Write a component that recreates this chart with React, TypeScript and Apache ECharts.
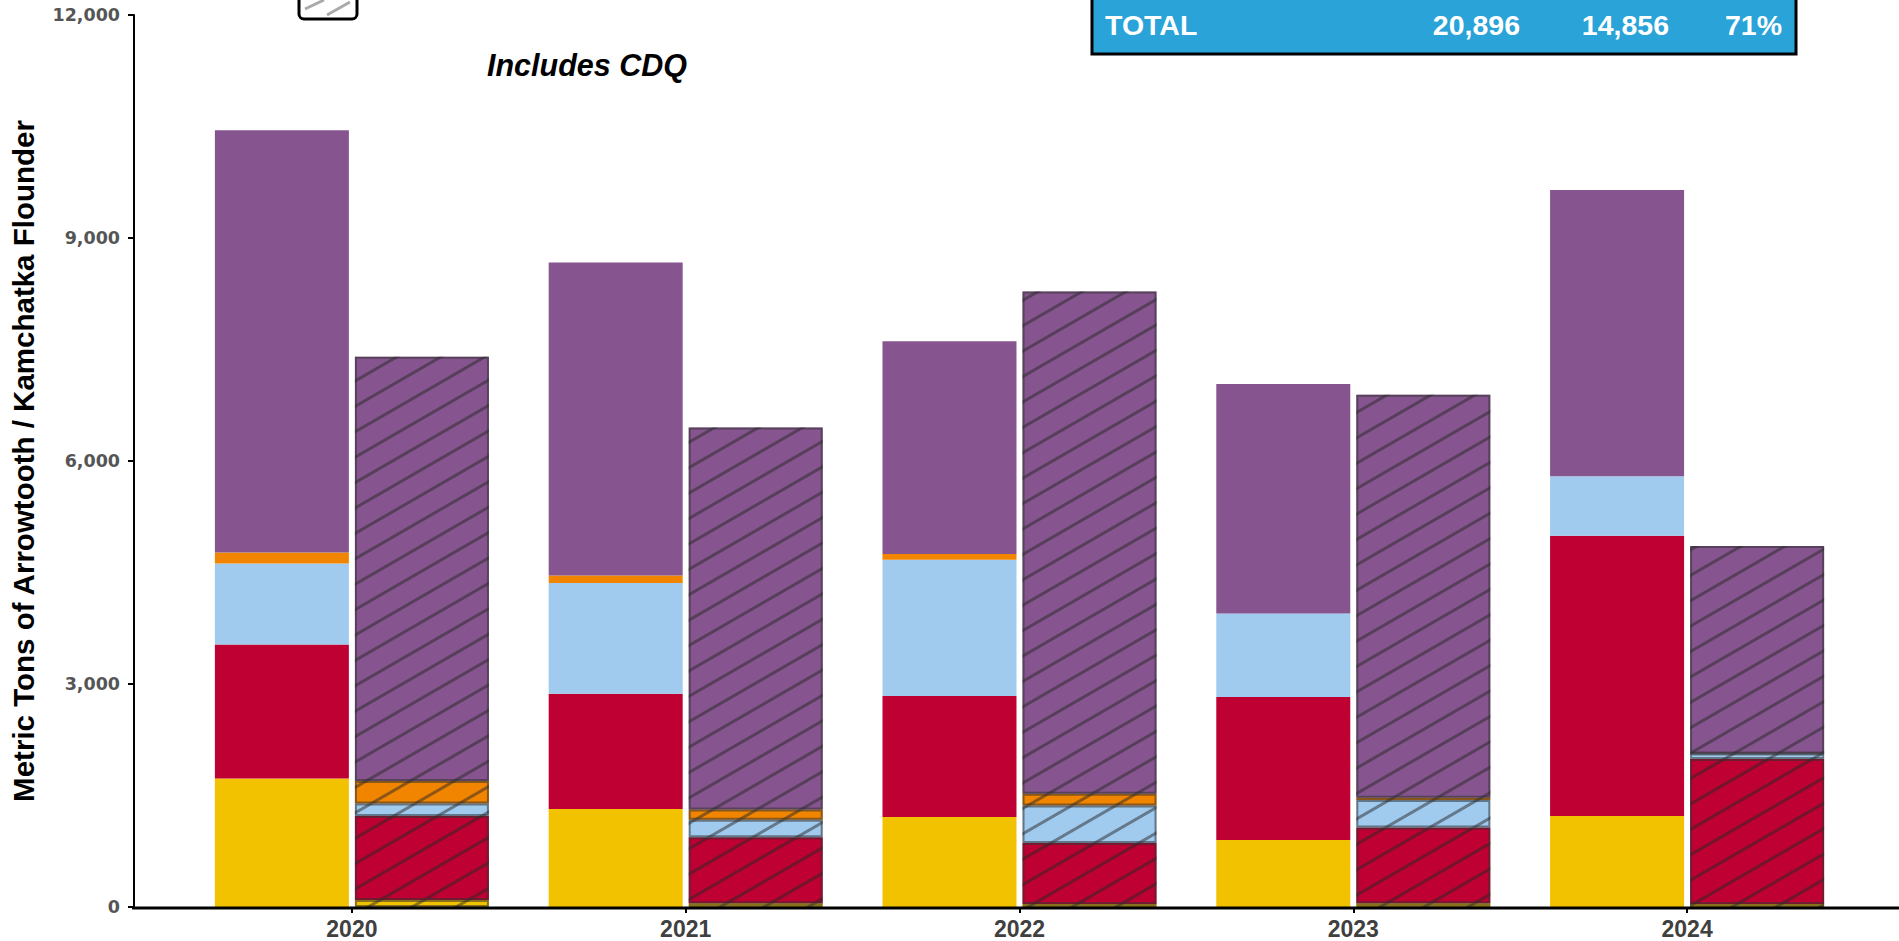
import React, { useEffect, useRef } from "react";
import * as echarts from "echarts";

const years = ["2020", "2021", "2022", "2023", "2024"];
const yTicks = [0, 3000, 6000, 9000, 12000];

// solid bars (left of each pair)
const solidYellow = [1730, 1320, 1210, 900, 1225];
const solidRed = [1800, 1550, 1630, 1925, 3770];
const solidBlue = [1090, 1490, 1830, 1125, 800];
const solidOrange = [150, 100, 80, 0, 0];
const solidPurple = [5680, 4210, 2860, 3085, 3850];

// hatched bars (right of each pair)
const hatchYellow = [94, 50, 40, 50, 40];
const hatchRed = [1130, 890, 820, 1020, 1950];
const hatchBlue = [170, 235, 505, 370, 75];
const hatchOrange = [300, 135, 160, 30, 0];
const hatchPurple = [5710, 5140, 6755, 5420, 2790];

const tableTotal = ["TOTAL", "20,896", "14,856", "71%"];

const YELLOW = "#F2C200";
const RED = "#BE0032";
const BLUE = "#A1CAEF";
const ORANGE = "#F28500";
const PURPLE = "#86558F";

const decal = {
  symbol: "rect",
  symbolSize: 1,
  color: "rgba(40,40,40,0.5)",
  dashArrayX: [1, 0],
  dashArrayY: [3, 19],
  rotation: -Math.PI / 6,
};

export default function App() {
  const ref = useRef<HTMLDivElement>(null);
  useEffect(() => {
    document.body.style.margin = "0";
    const chart = echarts.init(ref.current!, null, { renderer: "svg" });
    const solid = (name: string, data: number[], color: string) => ({
      name,
      type: "bar",
      stack: "solid",
      data,
      barWidth: 134,
      barGap: "4.5%",
      itemStyle: { color },
    });
    const hatched = (name: string, data: number[], color: string) => ({
      name,
      type: "bar",
      stack: "hatched",
      data,
      barWidth: 134,
      barGap: "4.5%",
      itemStyle: { color, decal },
    });
    // outline layer drawn on an identical hidden category axis
    const outline = (name: string, data: number[]) => ({
      name,
      type: "bar",
      xAxisIndex: 1,
      stack: "outline",
      data,
      barWidth: 134,
      barGap: "4.5%",
      silent: true,
      z: 3,
      itemStyle: {
        color: "rgba(0,0,0,0)",
        borderColor: "rgba(50,50,50,0.55)",
        borderWidth: 2,
      },
    });
    chart.setOption({
      animation: false,
      aria: { enabled: false },
      grid: { left: 184, right: 45, top: 15, bottom: 34, containLabel: false },
      xAxis: [
        {
          type: "category",
          data: years,
          boundaryGap: true,
          axisLine: { show: false },
          axisTick: {
            show: true,
            alignWithLabel: true,
            length: 6,
            lineStyle: { color: "#000", width: 2 },
          },
          axisLabel: {
            color: "#404040",
            fontFamily: "Liberation Sans, Arial, sans-serif",
            fontWeight: "bold",
            fontSize: 23,
            margin: 10,
          },
        },
        { type: "category", data: years, boundaryGap: true, show: false },
      ],
      yAxis: {
        type: "value",
        min: 0,
        max: 12000,
        interval: 3000,
        offset: 51,
        splitLine: { show: false },
        axisLine: { show: true, lineStyle: { color: "#000", width: 2 } },
        axisTick: { show: true, length: 6, lineStyle: { color: "#000", width: 2 } },
        axisLabel: {
          color: "#555",
          fontFamily: "DejaVu Sans, Verdana, sans-serif",
          fontWeight: "bold",
          fontSize: 17.5,
          margin: 14,
          formatter: (v: number) => (yTicks.includes(v) ? v.toLocaleString("en-US") : ""),
        },
        name: "Metric Tons of Arrowtooth / Kamchatka Flounder",
        nameLocation: "middle",
        nameGap: 96,
        nameTextStyle: {
          color: "#000",
          fontFamily: "Liberation Sans, Arial, sans-serif",
          fontWeight: "bold",
          fontSize: 29.5,
        },
      },
      series: [
        solid("Yellow", solidYellow, YELLOW),
        solid("Red", solidRed, RED),
        solid("Blue", solidBlue, BLUE),
        solid("Orange", solidOrange, ORANGE),
        solid("Purple", solidPurple, PURPLE),
        hatched("Yellow hatched", hatchYellow, YELLOW),
        hatched("Red hatched", hatchRed, RED),
        hatched("Blue hatched", hatchBlue, BLUE),
        hatched("Orange hatched", hatchOrange, ORANGE),
        hatched("Purple hatched", hatchPurple, PURPLE),
        {
          name: "slot",
          type: "bar",
          xAxisIndex: 1,
          stack: "slot",
          data: solidYellow,
          barWidth: 134,
          barGap: "4.5%",
          silent: true,
          itemStyle: { color: "rgba(0,0,0,0)" },
        },
        outline("o1", hatchYellow),
        outline("o2", hatchRed),
        outline("o3", hatchBlue),
        outline("o4", hatchOrange),
        outline("o5", hatchPurple),
      ],
      graphic: [
        {
          type: "line",
          shape: { x1: 132, y1: 908, x2: 1899, y2: 908 },
          style: { stroke: "#000", lineWidth: 3 },
          z: 10,
        },
        {
          type: "rect",
          shape: { x: 299, y: -20, width: 58, height: 39, r: 5 },
          style: { fill: "#fff", stroke: "#000", lineWidth: 3 },
        },
        {
          type: "line",
          shape: { x1: 305, y1: 9, x2: 324, y2: 0 },
          style: { stroke: "#aaa", lineWidth: 3 },
        },
        {
          type: "line",
          shape: { x1: 327, y1: 15, x2: 350, y2: 2 },
          style: { stroke: "#aaa", lineWidth: 3 },
        },
        {
          type: "text",
          x: 587,
          y: 65,
          style: {
            text: "Includes CDQ",
            fill: "#000",
            font: "italic bold 30.5px 'Liberation Sans', Arial, sans-serif",
            textAlign: "center",
            textVerticalAlign: "middle",
          },
        },
        {
          type: "rect",
          shape: { x: 1092, y: -10, width: 704, height: 64 },
          style: { fill: "#29A3D8", stroke: "#000", lineWidth: 3 },
        },
        {
          type: "text",
          x: 1105,
          y: 25,
          style: {
            text: tableTotal[0],
            fill: "#fff",
            font: "bold 28.5px 'Liberation Sans', Arial, sans-serif",
            textAlign: "left",
            textVerticalAlign: "middle",
          },
        },
        {
          type: "text",
          x: 1520,
          y: 25,
          style: {
            text: tableTotal[1],
            fill: "#fff",
            font: "bold 28.5px 'Liberation Sans', Arial, sans-serif",
            textAlign: "right",
            textVerticalAlign: "middle",
          },
        },
        {
          type: "text",
          x: 1669,
          y: 25,
          style: {
            text: tableTotal[2],
            fill: "#fff",
            font: "bold 28.5px 'Liberation Sans', Arial, sans-serif",
            textAlign: "right",
            textVerticalAlign: "middle",
          },
        },
        {
          type: "text",
          x: 1782,
          y: 25,
          style: {
            text: tableTotal[3],
            fill: "#fff",
            font: "bold 28.5px 'Liberation Sans', Arial, sans-serif",
            textAlign: "right",
            textVerticalAlign: "middle",
          },
        },
      ],
    });
    return () => chart.dispose();
  }, []);
  return (
    <div
      ref={ref}
      style={{ position: "absolute", left: 0, top: 0, width: 1899, height: 941, background: "#fff" }}
    />
  );
}
